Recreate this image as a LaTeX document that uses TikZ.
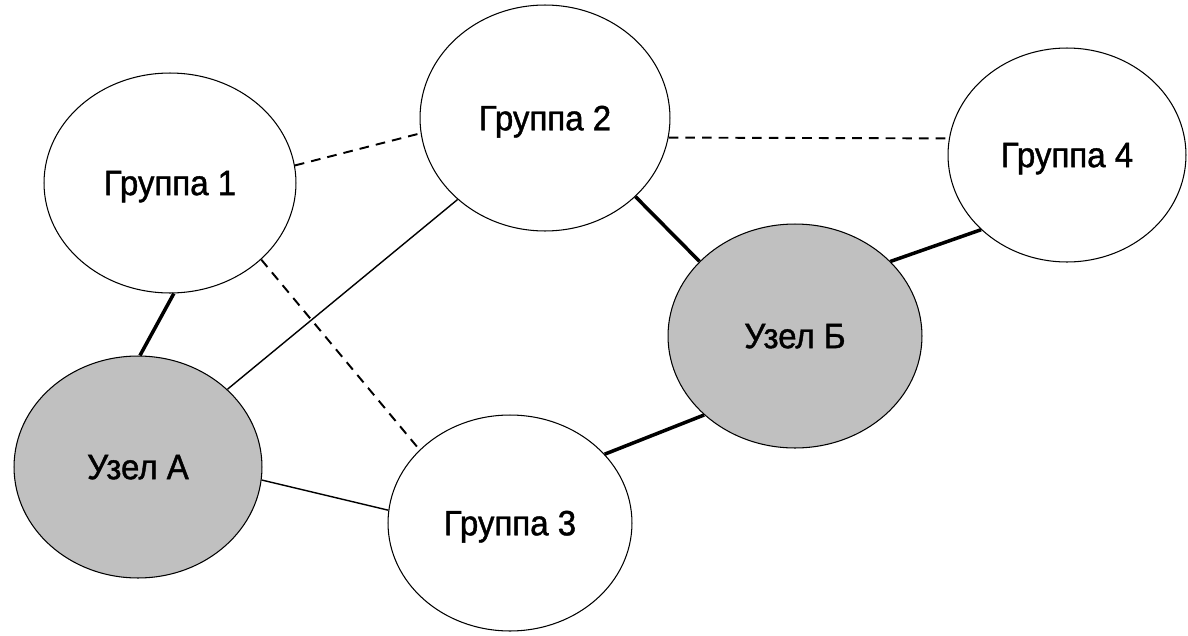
\documentclass[tikz,border=0pt]{standalone}
\usepackage{fontspec}
\setmainfont{Liberation Sans}[FakeStretch=0.94,FakeBold=1.2]
\usetikzlibrary{shapes}
\definecolor{uzelgray}{RGB}{192,192,192}
\tikzset{
  grp/.style={ellipse, draw, line width=0.6pt, fill=white, inner sep=0pt,
    text depth=0pt, font=\fontsize{20}{22}\selectfont},
  uzel/.style={grp, fill=uzelgray},
  thickln/.style={line width=2pt},
  thinln/.style={line width=0.8pt},
  dashln/.style={line width=1.1pt, dash pattern=on 5.5pt off 4pt},
}
\begin{document}
\begin{tikzpicture}[x=0.02cm,y=-0.02cm]
    \useasboundingbox (0,0) rectangle (1188,636);
    % groups
    \node[grp, minimum width=5.04cm, minimum height=4.4cm] (gr1) at (170,183) {Группа 1};
    \node[grp, minimum width=5.0cm, minimum height=4.52cm] (gr2) at (545,118) {Группа 2};
    \node[grp, minimum width=4.88cm, minimum height=4.32cm] (gr3) at (510,523) {Группа 3};
    \node[grp, minimum width=4.76cm, minimum height=4.28cm] (gr4) at (1067,155) {Группа 4};
    % nodes
    \node[uzel, minimum width=4.96cm, minimum height=4.44cm] (uzA) at (138,467) {Узел А};
    \node[uzel, minimum width=5.08cm, minimum height=4.48cm] (uzB) at (795,336) {Узел Б};
    % links
    \draw[dashln] (gr1.8) -- (gr2.187);
    \draw[dashln] (gr1.-40) -- (gr3.141);
    \draw[dashln] (gr2.-9) -- (gr4.172);
    \draw[thickln] (gr1.-88) -- (uzA.89);
    \draw[thickln] (gr2.-41) -- (uzB.142);
    \draw[thickln] (uzB.38) -- (gr4.221);
    \draw[thickln] (uzB.221) -- (gr3.36);
    \draw[thinln] (gr2.223) -- (uzA.41);
    \draw[thinln] (uzA.-6) -- (gr3.174);
\end{tikzpicture}
\end{document}
